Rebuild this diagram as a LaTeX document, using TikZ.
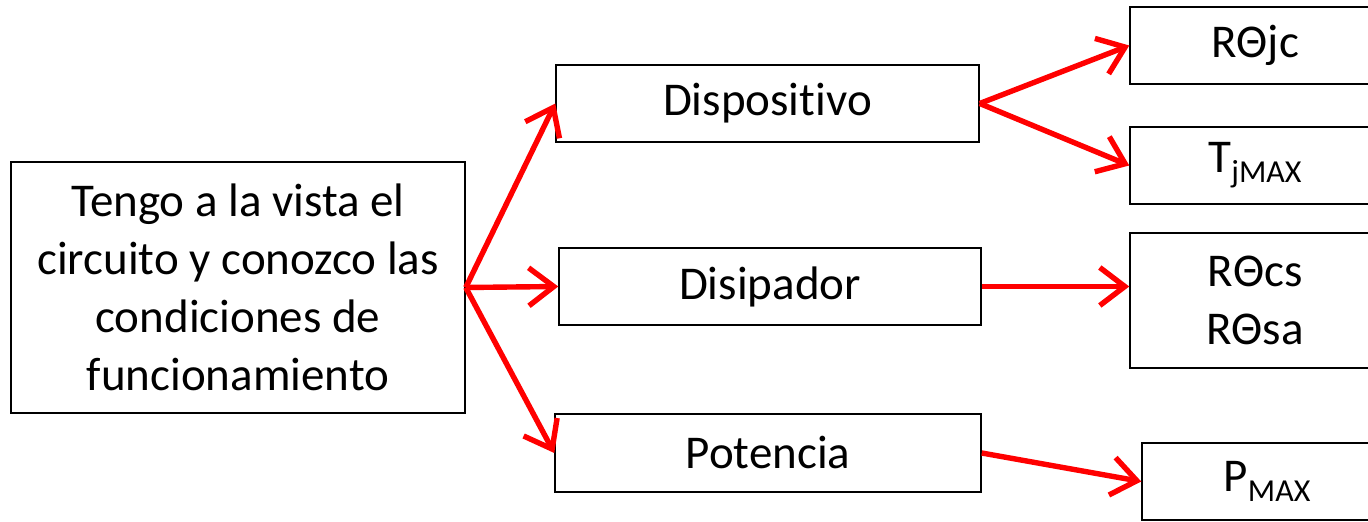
\documentclass[tikz,border=0pt]{standalone}
\usepackage{fontspec}
\setmainfont[Ligatures=NoCommon]{Carlito}
\usetikzlibrary{arrows.meta}
\newcommand{\subind}[1]{\raisebox{-5pt}{\fontsize{16}{16}\selectfont #1}}
\begin{document}
\begin{tikzpicture}[x=0.5pt,y=-0.5pt,
	every node/.style={draw,line width=0.75pt,inner sep=0,align=center,
	font=\fontsize{23.5}{29}\selectfont},
	flecha/.style={draw=red,line width=2.7pt,
	-{Straight Barb[length=12.5pt,width=19pt,line width=2.7pt]}}]
\clip (0,0) rectangle (1368,522);
\node[minimum width=227pt,minimum height=125.5pt] (cond) at (238,287.5)
	{Tengo a la vista el\\circuito y conozco las\\condiciones de\\funcionamiento};
\node[minimum width=211.5pt,minimum height=38.5pt] (disp) at (767.5,103.5) {Dispositivo};
\node[minimum width=211pt,minimum height=38.5pt] (disi) at (770,286.5) {Disipador};
\node[minimum width=213pt,minimum height=39pt] (pot) at (768,453) {Potencia};
\node[minimum width=125pt,minimum height=38.5pt] (rjc) at (1255,45.5) {RΘjc};
\node[minimum width=125pt,minimum height=38.5pt] (tj) at (1255,165.5) {T\subind{jMAX}};
\node[minimum width=125pt,minimum height=67.5pt] (rcs) at (1255,300.5) {RΘcs\\RΘsa};
\node[minimum width=125pt,minimum height=38.5pt] (pmax) at (1267,481.5) {P\subind{MAX}};
\draw[flecha] (cond.east) -- (disp.west);
\draw[flecha] (cond.east) -- (disi.west);
\draw[flecha] (cond.east) -- (pot.west);
\draw[flecha] (disp.east) -- (rjc.west);
\draw[flecha] (disp.east) -- (tj.west);
\draw[flecha] (disi.east) -- (disi.east -| rcs.west);
\draw[flecha] (pot.east) -- (pmax.west);
\end{tikzpicture}
\end{document}
